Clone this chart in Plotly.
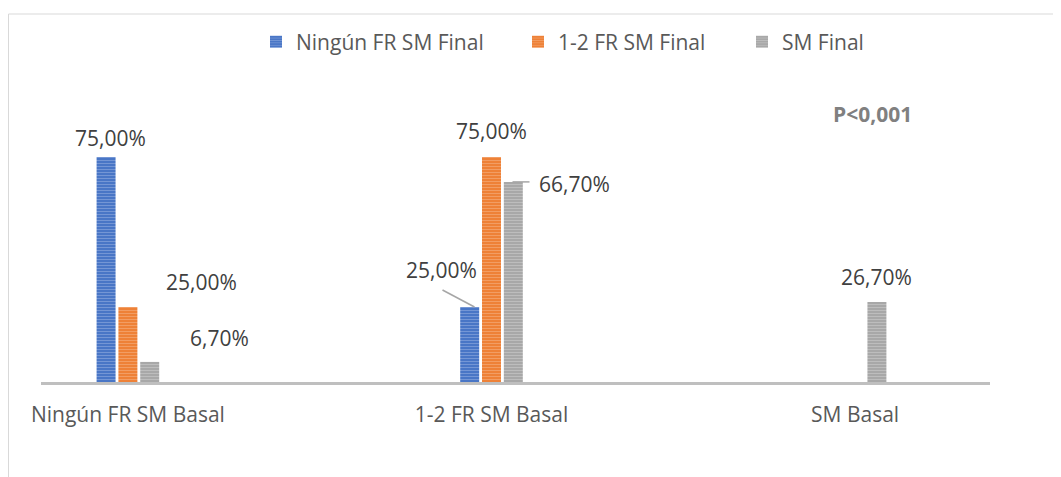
import plotly.graph_objects as go

# categories and series (percentages)
categories = ["Ningún FR SM Basal", "1-2 FR SM Basal", "SM Basal"]
series_names = ["Ningún FR SM Final", "1-2 FR SM Final", "SM Final"]
ninguno_final = [75.0, 25.0, 0.0]
fr12_final = [25.0, 75.0, 0.0]
sm_final = [6.7, 66.7, 26.7]
p_value_text = "P<0,001"

# page has an 8px body margin, so the figure is drawn 8px smaller
PAGE = 8
W, H = 1061 - PAGE, 477 - PAGE
PL, PR, PT, PB = 41, 990, 60, 382      # plot box in screenshot pixels
plot_w = PR - PL
plot_h = PB - PT
y_max = plot_h / 3.0                    # 3 px per percentage point
x_range = [-0.239, 2.371]


def px(x):
    return (x - PL) / plot_w


def py(y):
    return (PB - y) / plot_h


colors = ["#4472C4", "#ED7D31", "#A5A5A5"]
light = ["#A3BAE5", "#F7BD95", "#D6D6D6"]
series = [ninguno_final, fr12_final, sm_final]
legend_ids = ["legend", "legend2", "legend3"]
legend_text_x = [296, 558, 782]

fig = go.Figure()
xs = list(range(len(categories)))
for name, vals, c, lc, lg in zip(series_names, series, colors, light, legend_ids):
    fig.add_trace(go.Bar(
        x=xs, y=vals, name=name, legend=lg,
        marker=dict(color=c, line=dict(width=0),
                    pattern=dict(shape="-", fgcolor=lc, bgcolor=c, size=3, solidity=0.4)),
        hoverinfo="skip",
    ))

label_font = dict(family="Open Sans", size=21, color="#404040")
slot = 21.7
fmt = lambda v: f"{v:.2f}".replace(".", ",") + "%"

# plain data labels: (series, category, xshift, yshift)
plain_labels = [(0, 0, 4, 19), (1, 0, 74, 25), (2, 0, 70, 24), (1, 1, 0, 26), (2, 2, 0, 25)]
for si, ci, dx, dy in plain_labels:
    v = series[si][ci]
    fig.add_annotation(x=ci, y=v, xref="x", yref="y", text=fmt(v), showarrow=False,
                       xshift=(si - 1) * slot + dx, yshift=dy, font=label_font)

# labels with leader lines: (series, category, text dx, text dy, line start, line end)
leader_labels = [
    (0, 1, -50, 37, (-17, 0), (-49, 17)),
    (2, 1, 83, -2, (21, 0), (38, 0)),
]
for si, ci, tx, ty, p0, p1 in leader_labels:
    v = series[si][ci]
    fig.add_annotation(x=ci, y=v, xref="x", yref="y", text=fmt(v), showarrow=False,
                       xshift=tx, yshift=ty, font=label_font)
    fig.add_shape(type="line", xref="x", yref="y", xsizemode="pixel", ysizemode="pixel",
                  xanchor=ci, yanchor=v, x0=p0[0], y0=p0[1], x1=p1[0], y1=p1[1],
                  line=dict(color="#A6A6A6", width=1.5))

fig.add_annotation(x=px(872), y=py(114), xref="paper", yref="paper",
                   xanchor="center", yanchor="middle",
                   text="<b>" + p_value_text + "</b>", showarrow=False,
                   font=dict(family="Open Sans", size=21, color="#808080"))

# chart border
fig.add_shape(type="rect", xref="paper", yref="paper",
              x0=px(PAGE + 0.5), x1=1.3, y0=-0.6, y1=py(14),
              line=dict(color="#D9D9D9", width=1), fillcolor="rgba(0,0,0,0)", layer="below")

legend_style = dict(orientation="h", yanchor="middle", y=py(42), xanchor="left",
                    font=dict(family="Open Sans", size=21, color="#595959"),
                    itemwidth=30, bgcolor="rgba(0,0,0,0)")

fig.update_layout(
    width=W, height=H,
    margin=dict(l=PL - PAGE, r=W - (PR - PAGE), t=PT - PAGE, b=H - (PB - PAGE)),
    paper_bgcolor="white", plot_bgcolor="white",
    barmode="group", bargap=0.82, bargroupgap=0.13,
    showlegend=True,
    legend=dict(x=px(legend_text_x[0] - 40), **legend_style),
    legend2=dict(x=px(legend_text_x[1] - 40), **legend_style),
    legend3=dict(x=px(legend_text_x[2] - 40), **legend_style),
    xaxis=dict(range=x_range, tickvals=xs, ticktext=categories, showgrid=False,
               showline=True, linecolor="#BFBFBF", linewidth=3, ticks="",
               ticklabelstandoff=12, zeroline=False,
               tickfont=dict(family="Open Sans", size=21, color="#595959")),
    yaxis=dict(range=[0, y_max], visible=False, showgrid=False, zeroline=False),
)

fig.write_html("out.html")
